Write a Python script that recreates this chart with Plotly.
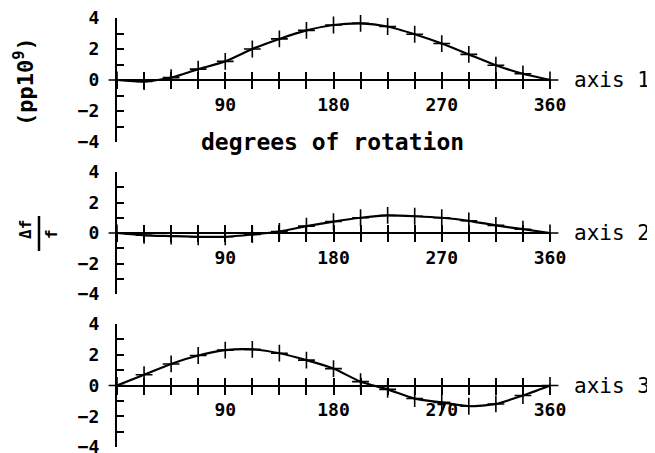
import plotly.graph_objects as go

# ---- data ----
degrees = [0, 22.5, 45, 67.5, 90, 112.5, 135, 157.5, 180,
           202.5, 225, 247.5, 270, 292.5, 315, 337.5, 360]
axis1 = [0, -0.1, 0.15, 0.7, 1.2, 2.0, 2.65, 3.2, 3.55,
         3.65, 3.45, 2.95, 2.35, 1.65, 0.95, 0.4, 0]
axis2 = [0, -0.15, -0.2, -0.25, -0.25, -0.1, 0.1, 0.45, 0.75,
         1.0, 1.15, 1.1, 1.0, 0.8, 0.5, 0.25, 0]
axis3 = [0, 0.7, 1.4, 1.95, 2.3, 2.35, 2.1, 1.65, 1.1,
         0.25, -0.25, -0.85, -1.1, -1.35, -1.2, -0.65, 0]
series = [axis1, axis2, axis3]
series_names = ["axis 1", "axis 2", "axis 3"]
x_label_vals = [90, 180, 270, 360]
y_label_vals = [-4, -2, 0, 2, 4]
y_minor_vals = [-4, -3, -2, -1, 0, 1, 2, 3, 4]

# ---- layout constants (page body has an 8px margin) ----
OX, OY = 8, 8
FW, FH = 647, 445
FONT = "DejaVu Sans Mono"


def px(x):
    return (x - OX) / FW


def py(y):
    return 1 - (y - OY) / FH


x_dom = [px(117), px(550)]
panels_px = [(18, 142), (172, 294), (324, 447)]

fig = go.Figure()
layout = dict(
    width=FW, height=FH,
    margin=dict(l=0, r=0, t=0, b=0, autoexpand=False),
    paper_bgcolor="white", plot_bgcolor="white",
    showlegend=False,
    font=dict(family=FONT, size=16, color="black"),
)

for i, (top, bot) in enumerate(panels_px):
    n = i + 1
    dom = [py(bot), py(top)]
    mid = (dom[0] + dom[1]) / 2
    xa = "x" if n == 1 else f"x{n}"
    ya = "y" if n == 1 else f"y{n}"
    xa2 = f"x{n + 3}"
    layout[f"xaxis{'' if n == 1 else n}"] = dict(
        domain=x_dom, range=[0, 360], anchor="free", position=mid,
        showline=True, linecolor="black", linewidth=2,
        ticks="outside", ticklen=8, tickwidth=1.5, tickcolor="black",
        tickmode="array", tickvals=x_label_vals,
        minor=dict(tickmode="array", tickvals=degrees, ticks="outside",
                   ticklen=8, tickwidth=1.5, tickcolor="black", showgrid=False),
        tickfont=dict(family=FONT, size=18, color="black", weight="bold"),
        ticklabeloverflow="allow",
        showgrid=False, zeroline=False, fixedrange=True, automargin=False,
    )
    layout[f"xaxis{n + 3}"] = dict(
        domain=x_dom, range=[0, 360], anchor="free", position=mid,
        overlaying=xa, showline=False,
        ticks="inside", ticklen=8, tickwidth=1.5, tickcolor="black",
        tickmode="array", tickvals=degrees, showticklabels=False,
        showgrid=False, zeroline=False, fixedrange=True, automargin=False,
    )
    layout[f"yaxis{'' if n == 1 else n}"] = dict(
        domain=dom, range=[-4, 4], anchor=xa,
        showline=True, linecolor="black", linewidth=2,
        ticks="inside", ticklen=7, tickwidth=1.5, tickcolor="black",
        tickmode="array", tickvals=y_label_vals,
        minor=dict(tickmode="array", tickvals=y_minor_vals, ticks="inside",
                   ticklen=7, tickwidth=1.5, tickcolor="black", showgrid=False),
        ticklabelstandoff=12, ticklabeloverflow="allow",
        tickfont=dict(family=FONT, size=18, color="black", weight="bold"),
        showgrid=False, zeroline=False, fixedrange=True, automargin=False,
    )
    fig.add_trace(go.Scatter(
        x=degrees, y=series[i], xaxis=xa, yaxis=ya, mode="lines",
        line=dict(color="black", width=2.2, shape="spline", smoothing=0.6),
        cliponaxis=False, hoverinfo="skip",
    ))
    fig.add_trace(go.Scatter(
        x=degrees, y=series[i], xaxis=xa2, yaxis=ya, mode="markers",
        marker=dict(symbol="cross-thin-open", size=12, color="black",
                    line=dict(color="black", width=1.6)),
        cliponaxis=False, hoverinfo="skip",
    ))

annotations = []
for i, name in enumerate(series_names):
    n = i + 1
    annotations.append(dict(
        text=name, xref="x" if n == 1 else f"x{n}", yref="y" if n == 1 else f"y{n}",
        x=360, y=0, xanchor="left", yanchor="middle", xshift=22, showarrow=False,
        font=dict(family=FONT, size=21, color="black"),
    ))
annotations.append(dict(
    text="degrees of rotation", xref="paper", yref="paper",
    x=px(332), y=py(142), xanchor="center", yanchor="middle",
    showarrow=False, font=dict(family=FONT, size=23, color="black", weight="bold"),
))
annotations.append(dict(
    text="(pp10<sup>9</sup>)", xref="paper", yref="paper",
    x=px(24), y=py(82), xanchor="center", yanchor="middle",
    textangle=-90, showarrow=False,
    font=dict(family=FONT, size=22, color="black", weight="bold"),
))
annotations.append(dict(
    text="Δf", xref="paper", yref="paper",
    x=px(25), y=py(230), xanchor="center", yanchor="middle",
    textangle=-90, showarrow=False,
    font=dict(family=FONT, size=16, color="black", weight="bold"),
))
annotations.append(dict(
    text="f", xref="paper", yref="paper",
    x=px(51), y=py(234), xanchor="center", yanchor="middle",
    textangle=-90, showarrow=False,
    font=dict(family=FONT, size=16, color="black", weight="bold"),
))
layout["annotations"] = annotations
layout["shapes"] = [dict(
    type="line", xref="paper", yref="paper",
    x0=px(39), x1=px(39), y0=py(251), y1=py(216),
    line=dict(color="black", width=2.5),
)]

fig.update_layout(**layout)
fig.write_html("out.html")
